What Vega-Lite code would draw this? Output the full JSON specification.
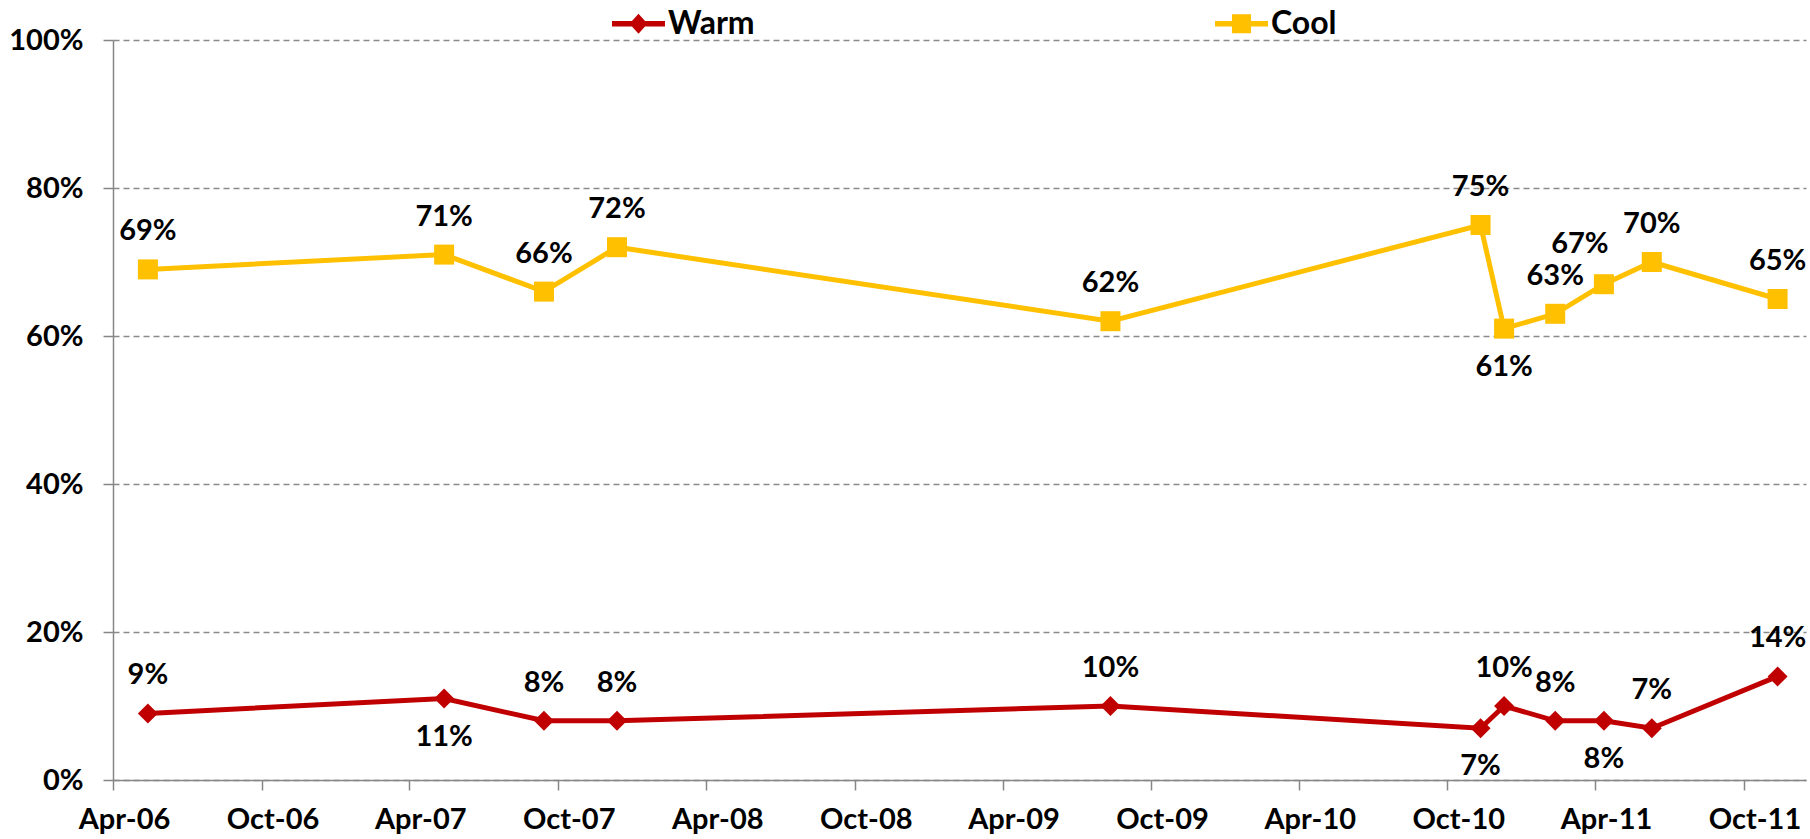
{
  "$schema": "https://vega.github.io/schema/vega-lite/v6.json",
  "width": 1693,
  "height": 740,
  "autosize": "none",
  "padding": {"left": 113, "top": 40, "right": 4, "bottom": 59},
  "background": "white",
  "config": {
    "view": {"stroke": null},
    "font": "Lato, sans-serif",
    "axis": {
      "labelFont": "Lato, sans-serif",
      "labelFontSize": 29,
      "labelFontWeight": "bold",
      "labelColor": "#000000",
      "domainColor": "#868686",
      "domainWidth": 1.5,
      "tickColor": "#868686",
      "tickWidth": 1.5,
      "title": null
    },
    "legend": {
      "labelFont": "Lato, sans-serif",
      "labelFontSize": 32,
      "labelFontWeight": "bold",
      "labelColor": "#000000"
    }
  },
  "data": {
    "values": [
      {"date": "2006-05-14", "series": "Warm", "value": 0.09, "labelPos": "above"},
      {"date": "2007-05-14", "series": "Warm", "value": 0.11, "labelPos": "below"},
      {"date": "2007-09-14", "series": "Warm", "value": 0.08, "labelPos": "above"},
      {"date": "2007-12-13", "series": "Warm", "value": 0.08, "labelPos": "above"},
      {"date": "2009-08-12", "series": "Warm", "value": 0.10, "labelPos": "above"},
      {"date": "2010-11-11", "series": "Warm", "value": 0.07, "labelPos": "below"},
      {"date": "2010-12-10", "series": "Warm", "value": 0.10, "labelPos": "above"},
      {"date": "2011-02-11", "series": "Warm", "value": 0.08, "labelPos": "above"},
      {"date": "2011-04-12", "series": "Warm", "value": 0.08, "labelPos": "below"},
      {"date": "2011-06-10", "series": "Warm", "value": 0.07, "labelPos": "above"},
      {"date": "2011-11-12", "series": "Warm", "value": 0.14, "labelPos": "above"},
      {"date": "2006-05-14", "series": "Cool", "value": 0.69, "labelPos": "above"},
      {"date": "2007-05-14", "series": "Cool", "value": 0.71, "labelPos": "above"},
      {"date": "2007-09-14", "series": "Cool", "value": 0.66, "labelPos": "above"},
      {"date": "2007-12-13", "series": "Cool", "value": 0.72, "labelPos": "above"},
      {"date": "2009-08-12", "series": "Cool", "value": 0.62, "labelPos": "above"},
      {"date": "2010-11-11", "series": "Cool", "value": 0.75, "labelPos": "above"},
      {"date": "2010-12-10", "series": "Cool", "value": 0.61, "labelPos": "below"},
      {"date": "2011-02-11", "series": "Cool", "value": 0.63, "labelPos": "above"},
      {"date": "2011-04-12", "series": "Cool", "value": 0.67, "labelPos": "aboveLeft"},
      {"date": "2011-06-10", "series": "Cool", "value": 0.70, "labelPos": "above"},
      {"date": "2011-11-12", "series": "Cool", "value": 0.65, "labelPos": "above"}
    ]
  },
  "encoding": {
    "x": {
      "field": "date",
      "type": "temporal",
      "scale": {
        "type": "utc",
        "domain": [
          {"year": 2006, "month": "apr", "date": 1, "utc": true},
          {"year": 2011, "month": "dec", "date": 17, "utc": true}
        ],
        "nice": false
      },
      "axis": {
        "values": [
          {"year": 2006, "month": "apr", "date": 1, "utc": true},
          {"year": 2006, "month": "oct", "date": 1, "utc": true},
          {"year": 2007, "month": "apr", "date": 1, "utc": true},
          {"year": 2007, "month": "oct", "date": 1, "utc": true},
          {"year": 2008, "month": "apr", "date": 1, "utc": true},
          {"year": 2008, "month": "oct", "date": 1, "utc": true},
          {"year": 2009, "month": "apr", "date": 1, "utc": true},
          {"year": 2009, "month": "oct", "date": 1, "utc": true},
          {"year": 2010, "month": "apr", "date": 1, "utc": true},
          {"year": 2010, "month": "oct", "date": 1, "utc": true},
          {"year": 2011, "month": "apr", "date": 1, "utc": true},
          {"year": 2011, "month": "oct", "date": 1, "utc": true}
        ],
        "format": "%b-%y",
        "grid": false,
        "tickSize": 10,
        "labelPadding": 15,
        "labelOffset": 11,
        "labelBaseline": "top",
        "labelFlush": false,
        "labelOverlap": false
      }
    },
    "y": {
      "field": "value",
      "type": "quantitative",
      "scale": {"domain": [0, 1], "nice": false},
      "axis": {
        "values": [0, 0.2, 0.4, 0.6, 0.8, 1],
        "format": ".0%",
        "grid": true,
        "gridColor": "#8a8a8a",
        "gridDash": [6, 4],
        "gridWidth": 1.5,
        "tickSize": 10,
        "labelPadding": 20
      }
    }
  },
  "layer": [
    {
      "mark": {"type": "line", "strokeWidth": 5},
      "encoding": {
        "color": {
          "field": "series",
          "type": "nominal",
          "scale": {"domain": ["Warm", "Cool"], "range": ["#C00000", "#FFC000"]}
        },
        "detail": {"field": "series"}
      }
    },
    {
      "transform": [{"filter": "datum.series === 'Warm'"}],
      "mark": {"type": "point", "shape": "diamond", "filled": true, "size": 400, "opacity": 1, "color": "#C00000"},
      "encoding": {}
    },
    {
      "transform": [{"filter": "datum.series === 'Cool'"}],
      "mark": {"type": "point", "shape": "square", "filled": true, "size": 400, "opacity": 1, "color": "#FFC000"},
      "encoding": {}
    },
    {
      "mark": {"type": "point", "filled": true, "opacity": 0, "size": 2809},
      "encoding": {
        "color": {
          "field": "series",
          "type": "nominal",
          "scale": {"domain": ["Warm", "Cool"], "range": ["#C00000", "#FFC000"]},
          "legend": {
            "title": null,
            "orient": "none",
            "direction": "horizontal",
            "legendX": 499,
            "legendY": -43,
            "padding": 0,
            "columnPadding": 460,
            "labelOffset": 3,
            "symbolSize": 2809,
            "symbolOpacity": 1,
            "symbolStrokeWidth": 0
          }
        },
        "shape": {
          "field": "series",
          "type": "nominal",
          "scale": {
            "domain": ["Warm", "Cool"],
            "range": [
              "M-1,-0.1L1,-0.1L1,0.1L-1,0.1ZM-0.34,0L0,-0.38L0.34,0L0,0.38Z",
              "M-1,-0.1L1,-0.1L1,0.1L-1,0.1ZM-0.36,-0.36L0.36,-0.36L0.36,0.36L-0.36,0.36Z"
            ]
          },
          "legend": {
            "title": null,
            "orient": "none",
            "direction": "horizontal",
            "legendX": 499,
            "legendY": -43,
            "padding": 0,
            "columnPadding": 460,
            "labelOffset": 3,
            "symbolSize": 2809,
            "symbolOpacity": 1,
            "symbolStrokeWidth": 0
          }
        }
      }
    },
    {
      "transform": [{"filter": "datum.labelPos === 'above'"}],
      "mark": {"type": "text", "dy": -38, "fontSize": 29, "fontWeight": "bold", "color": "#000000", "baseline": "middle"},
      "encoding": {"text": {"field": "value", "type": "quantitative", "format": ".0%"}}
    },
    {
      "transform": [{"filter": "datum.labelPos === 'aboveLeft'"}],
      "mark": {"type": "text", "dy": -40, "dx": -24, "fontSize": 29, "fontWeight": "bold", "color": "#000000", "baseline": "middle"},
      "encoding": {"text": {"field": "value", "type": "quantitative", "format": ".0%"}}
    },
    {
      "transform": [{"filter": "datum.labelPos === 'below'"}],
      "mark": {"type": "text", "dy": 38, "fontSize": 29, "fontWeight": "bold", "color": "#000000", "baseline": "middle"},
      "encoding": {"text": {"field": "value", "type": "quantitative", "format": ".0%"}}
    }
  ]
}
